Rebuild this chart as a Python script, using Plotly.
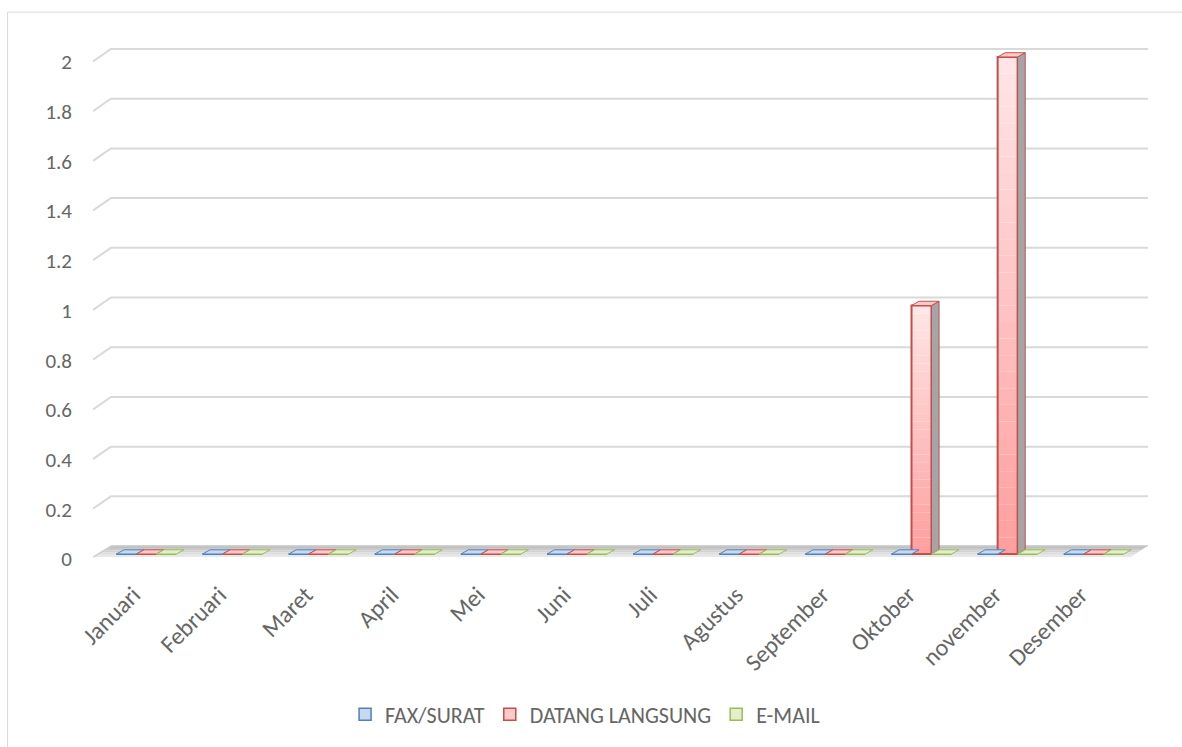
import plotly.graph_objects as go

months = ["Januari", "Februari", "Maret", "April", "Mei", "Juni", "Juli",
          "Agustus", "September", "Oktober", "november", "Desember"]
fax_surat = [0, 0, 0, 0, 0, 0, 0, 0, 0, 0, 0, 0]
datang_langsung = [0, 0, 0, 0, 0, 0, 0, 0, 0, 1, 2, 0]
email = [0, 0, 0, 0, 0, 0, 0, 0, 0, 0, 0, 0]
y_ticks = [0, 0.2, 0.4, 0.6, 0.8, 1, 1.2, 1.4, 1.6, 1.8, 2]

series = [
    ("FAX/SURAT", fax_surat, "#4F81BD", "#C6D9F1", ("#9DB9E6", "#E3ECFA")),
    ("DATANG LANGSUNG", datang_langsung, "#C0504D", "#FFC9C9", ("#FF9E9E", "#FFE6E6")),
    ("E-MAIL", email, "#9BBB59", "#E3EFC9", ("#C5DE9A", "#F0F7E3")),
]

# layout geometry (pixels)
W_FIG, H_FIG = 1182, 747
XR = [-0.62, 11.63]
YR = [-0.02, 2.04]
L, R = 92.5, 1148.4
T, B = 47.0, 561.0
PW, PH = R - L, B - T

def pxx(px):
    return (px - L) / PW

def pxy(py):
    return (B - py) / PH

BW = 0.232          # bar width in category units
DX = 0.088          # depth offset x (units)
DY = 0.017          # depth offset y (units)
GB = 0.032          # back wall offset

def hexmix(c1, c2, t):
    a = [int(c1[i:i + 2], 16) for i in (1, 3, 5)]
    b = [int(c2[i:i + 2], 16) for i in (1, 3, 5)]
    return "#%02x%02x%02x" % tuple(round(a[k] + (b[k] - a[k]) * t) for k in range(3))

fig = go.Figure()
shapes = []

# chart area border
shapes.append(dict(type="rect", xref="paper", yref="paper",
                   x0=pxx(7), x1=pxx(1195), y0=pxy(760), y1=pxy(12),
                   line=dict(color="#D9D9D9", width=1), fillcolor="rgba(0,0,0,0)",
                   layer="below"))

# gridlines with perspective slant on left wall
for v in y_ticks[1:]:
    shapes.append(dict(type="path", xref="x", yref="y", layer="below",
                       path=f"M{XR[0]},{v - 0.018} L-0.412,{v + GB} L{XR[1]},{v + GB}",
                       line=dict(color="#D9D9D9", width=2)))

# floor slab
floor_strips = 5
for k in range(floor_strips):
    t0 = k / floor_strips
    t1 = (k + 1) / floor_strips
    yb0 = -0.012 + (0.033 + 0.012) * t0
    yb1 = -0.012 + (0.033 + 0.012) * t1
    xl0 = XR[0] + (-0.405 - XR[0]) * t0
    xl1 = XR[0] + (-0.405 - XR[0]) * t1
    xr0 = 11.428 + (XR[1] - 11.428) * t0
    xr1 = 11.428 + (XR[1] - 11.428) * t1
    col = hexmix("#F2F2F2", "#BFBFBF", t1)
    shapes.append(dict(type="path", xref="x", yref="y", layer="below",
                       path=f"M{xl0},{yb0} L{xr0},{yb0} L{xr1},{yb1} L{xl1},{yb1} Z",
                       fillcolor=col, line=dict(width=0)))
shapes.append(dict(type="path", xref="x", yref="y", layer="below",
                   path=f"M{XR[0]},-0.012 L-0.405,0.033 L{XR[1]},0.033",
                   line=dict(color="#D0D0D0", width=1.5)))

offsets = [-1.5 * BW, -0.5 * BW, 0.5 * BW]
NSTRIP = 30
for (name, vals, dark, light, grad), off in zip(series, offsets):
    xs = list(range(len(months)))
    fig.add_trace(go.Bar(
        x=xs, y=vals, width=BW, offset=off, name=name, showlegend=False,
        marker=dict(color="rgba(0,0,0,0)", line=dict(color=dark, width=2)),
        hoverinfo="skip"))
    # legend proxy
    fig.add_trace(go.Bar(
        x=[None], y=[None], name=name,
        marker=dict(color=light, line=dict(color=dark, width=1.5))))
    for i, v in enumerate(vals):
        x0 = i + off
        x1 = x0 + BW
        if v > 0:
            for k in range(NSTRIP):
                ya = v * k / NSTRIP
                yb = v * (k + 1) / NSTRIP
                col = hexmix(grad[0], grad[1], (k + 0.5) / NSTRIP)
                shapes.append(dict(type="rect", xref="x", yref="y", layer="below",
                                   x0=x0, x1=x1, y0=ya, y1=yb,
                                   fillcolor=col, line=dict(width=0)))
            # side face
            shapes.append(dict(type="path", xref="x", yref="y", layer="above",
                               path=f"M{x1},0 L{x1 + DX},{DY} L{x1 + DX},{v + DY} L{x1},{v} Z",
                               fillcolor="#A5A5A5", line=dict(color=dark, width=1)))
        # top face (at floor for zero values)
        shapes.append(dict(type="path", xref="x", yref="y", layer="above",
                           path=f"M{x0},{v} L{x1},{v} L{x1 + DX},{v + DY} L{x0 + DX},{v + DY} Z",
                           fillcolor=light, line=dict(color=dark, width=1)))

font_fam = "Carlito, Lato, 'Open Sans', sans-serif"
TXT = "#666666"
fig.update_layout(
    width=W_FIG, height=H_FIG,
    margin=dict(l=L, r=W_FIG - R, t=T, b=H_FIG - B),
    paper_bgcolor="white", plot_bgcolor="white",
    barmode="overlay",
    shapes=shapes,
    font=dict(family=font_fam, color=TXT, size=21),
    showlegend=True,
    legend=dict(orientation="h", x=pxx(585), xanchor="center",
                y=pxy(717), yanchor="middle", font=dict(size=22, color=TXT),
                bgcolor="rgba(0,0,0,0)", itemwidth=30),
    xaxis=dict(range=XR, tickmode="array", tickvals=list(range(len(months))),
               ticktext=months, tickangle=-45, showgrid=False, zeroline=False,
               showline=False, ticks="", tickfont=dict(size=24, color=TXT),
               ticklabelshift=-13, ticklabelstandoff=16, fixedrange=True),
    yaxis=dict(range=YR, tickmode="array", tickvals=y_ticks,
               ticktext=[f"{t:g}" for t in y_ticks], showgrid=False, zeroline=False,
               showline=False, ticks="", tickfont=dict(size=21, color=TXT),
               ticklabelshift=5, ticklabelstandoff=20, fixedrange=True),
)

fig.write_html("out.html", config={"displayModeBar": False},
               post_script="document.body.style.margin='0';")
